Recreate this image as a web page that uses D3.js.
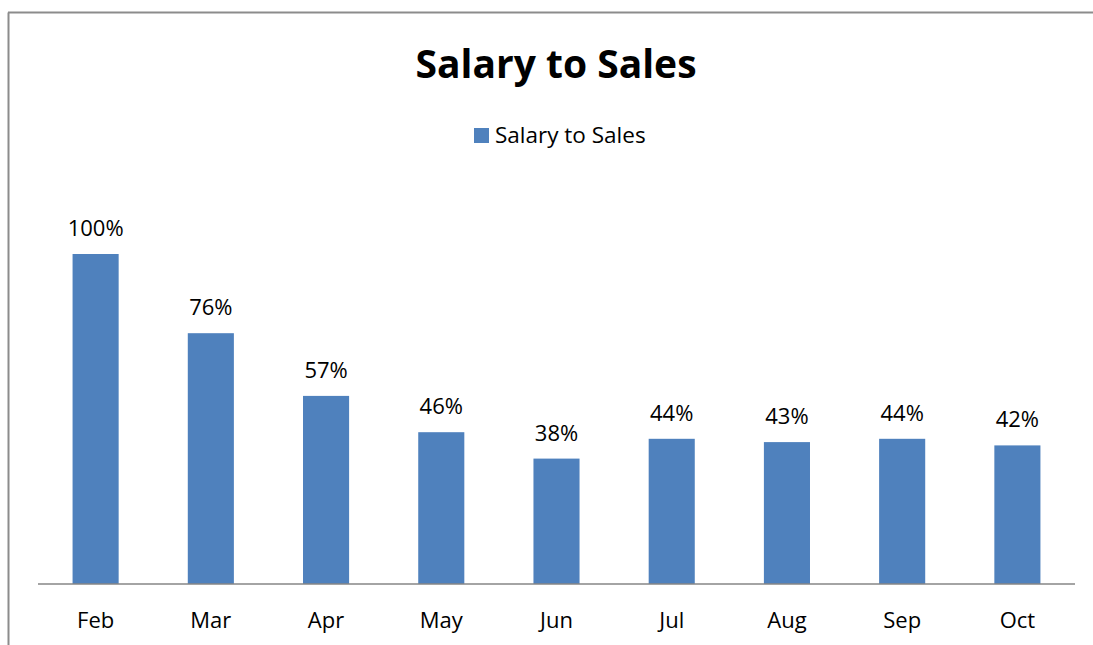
<!DOCTYPE html>
<html>
<head>
<meta charset="utf-8">
<script src="https://cdn.jsdelivr.net/npm/d3@7"></script>
<style>
  body { margin: 0; background: #fff; }
  text { font-family: "Open Sans", "Noto Sans", sans-serif; fill: #000; }
</style>
</head>
<body>
<div id="chart"></div>
<script>
// chart data
const months = ["Feb", "Mar", "Apr", "May", "Jun", "Jul", "Aug", "Sep", "Oct"]
const salaryToSales = [1.00, 0.76, 0.57, 0.46, 0.38, 0.44, 0.43, 0.44, 0.42]
const chartTitle = "Salary to Sales"
const seriesName = "Salary to Sales"

const W = 1093, H = 645
const margin = {left: 38, right: 18, top: 254, bottom: 61}
const barColor = "#4f81bd"

const svg = d3.select('#chart').append('svg')
    .attr('width', W)
    .attr('height', H)

// outer frame (left + top edges visible)
svg.append('line').attr('x1', 8.5).attr('x2', 8.5).attr('y1', 12.5).attr('y2', H)
    .attr('stroke', '#8c8c8c').attr('stroke-width', 2)
svg.append('line').attr('x1', 8).attr('x2', W).attr('y1', 12.5).attr('y2', 12.5)
    .attr('stroke', '#8c8c8c').attr('stroke-width', 2)

const x = d3.scaleBand()
    .domain(months)
    .range([margin.left, W - margin.right])
    .paddingInner(0.6)
    .paddingOuter(0.3)

const y = d3.scaleLinear()
    .domain([0, 1])
    .range([H - margin.bottom, margin.top])

// bars
svg.append('g')
    .selectAll('rect')
    .data(salaryToSales)
    .join('rect')
        .attr('x', (d, i) => x(months[i]))
        .attr('y', d => y(d))
        .attr('width', x.bandwidth())
        .attr('height', d => y(0) - y(d))
        .attr('fill', barColor)

// value labels
svg.append('g')
    .selectAll('text')
    .data(salaryToSales)
    .join('text')
        .attr('x', (d, i) => x(months[i]) + x.bandwidth() / 2)
        .attr('y', d => y(d) - 18)
        .attr('text-anchor', 'middle')
        .style('font-size', '22px')
        .text(d => d3.format('.0%')(d))

// x axis
const xAxis = svg.append('g')
    .attr('transform', `translate(0,${y(0)})`)
    .call(d3.axisBottom(x).tickSize(0).tickPadding(28))
xAxis.select('.domain').attr('stroke', '#868686').attr('stroke-width', 1.5)
    .attr('d', `M${margin.left},0H${W - margin.right}`)
xAxis.selectAll('text').style('font-size', '22px').attr('fill', '#000')
    .attr('dy', '0.71em')

// title
svg.append('text')
    .attr('x', 556)
    .attr('y', 78)
    .attr('text-anchor', 'middle')
    .style('font-size', '39px')
    .style('font-weight', 'bold')
    .text(chartTitle)

// legend
const legend = svg.append('g').attr('transform', 'translate(474,128)')
legend.append('rect').attr('width', 15).attr('height', 15).attr('fill', barColor)
legend.append('text').attr('x', 21).attr('y', 15)
    .style('font-size', '22.5px')
    .text(seriesName)
</script>
</body>
</html>
